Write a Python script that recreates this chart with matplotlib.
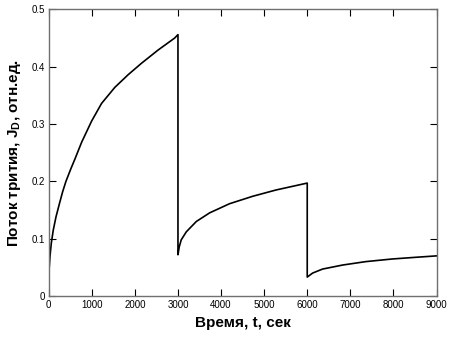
import matplotlib
matplotlib.use("Agg")
import matplotlib.pyplot as plt

plt.rcParams['font.family'] = ['Liberation Sans', 'DejaVu Sans']
plt.rcParams['mathtext.fontset'] = 'custom'
plt.rcParams['mathtext.rm'] = 'Liberation Sans'
plt.rcParams['mathtext.it'] = 'Liberation Sans:italic'
plt.rcParams['mathtext.bf'] = 'Liberation Sans:bold'

# Time (s) and tritium flux (rel. units)
t = [0, 8, 30, 60, 106, 169, 245, 324, 400, 509, 609, 763, 995, 1227, 1535,
     1843, 2153, 2537, 2923, 3000,
     3000, 3030, 3076, 3194, 3426, 3734, 4197, 4736, 5278, 5700, 6000,
     6000, 6125, 6356, 6820, 7360, 7977, 8516, 9000]
flux = [0.0, 0.045, 0.069, 0.092, 0.115, 0.138, 0.160, 0.182, 0.200, 0.221, 0.239,
        0.268, 0.305, 0.336, 0.364, 0.386, 0.406, 0.429, 0.450, 0.456,
        0.072, 0.086, 0.098, 0.112, 0.130, 0.145, 0.161, 0.174, 0.185, 0.192, 0.197,
        0.033, 0.040, 0.047, 0.054, 0.060, 0.0646, 0.0675, 0.070]

xticks = [0, 1000, 2000, 3000, 4000, 5000, 6000, 7000, 8000, 9000]
yticks = [0, 0.1, 0.2, 0.3, 0.4, 0.5]
ytick_labels = ['0', '0.1', '0.2', '0.3', '0.4', '0.5']

fig = plt.figure(figsize=(4.53, 3.37), dpi=100)
W, H = 453, 337
ax = fig.add_axes([48.7 / W, 1 - 296 / H, (436.5 - 48.7) / W, (296 - 9.4) / H])
ax.plot(t, flux, color='black', lw=1.2)
ax.set_xlim(0, 9000)
ax.set_ylim(0, 0.5)
ax.set_xticks(xticks)
ax.set_yticks(yticks)
ax.set_yticklabels(ytick_labels)
ax.tick_params(direction='in', length=5, width=0.8, top=True, right=True,
               labelsize=7, colors='black', pad=3)
for s in ax.spines.values():
    s.set_color('#707070')
    s.set_linewidth(1.0)

ax.set_xlabel('Время, t, сек', fontsize=11, fontweight='bold', labelpad=4)
ax.set_ylabel(r'Поток трития, $\mathbf{J_D}$, отн.ед.', fontsize=11,
              fontweight='bold', labelpad=6)

fig.savefig('out.png', dpi=100)
